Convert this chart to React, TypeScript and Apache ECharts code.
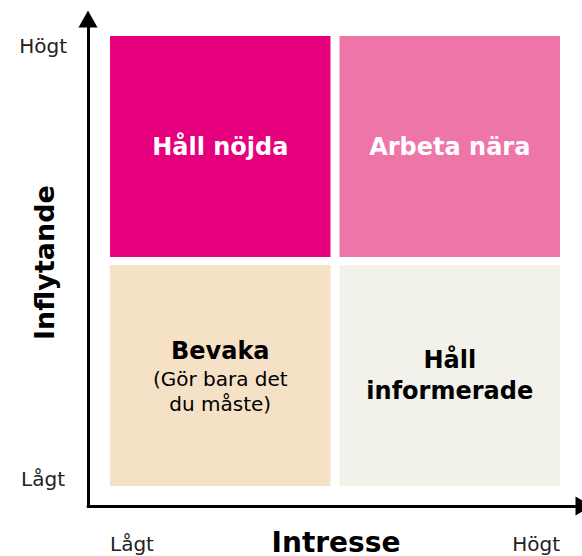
import React, { useEffect, useRef } from "react";
import * as echarts from "echarts";

const cellX = [0, 1, 0, 1];
const cellY = [1, 1, 0, 0];
const cellTitles = ["Håll nöjda", "Arbeta nära", "Bevaka", "Håll\ninformerade"];
const cellNotes = ["", "", "(Gör bara det\ndu måste)", ""];
const cellColors = ["#E6007E", "#EE75A8", "#F5E1C6", "#F2F2EA"];
const cellTextColors = ["#FFFFFF", "#FFFFFF", "#000000", "#000000"];

const xName = "Intresse";
const yName = "Inflytande";
const xTickLabels = ["Lågt", "Högt"];
const yTickLabels = ["Lågt", "Högt"];

export default function App() {
  const ref = useRef<HTMLDivElement>(null);
  useEffect(() => {
    const chart = echarts.init(ref.current!, null, { renderer: "svg" });
    const gap = 9;
    const data = cellX.map((x, i) => [x, cellY[i], i]);
    const font = "DejaVu Sans";
    chart.setOption({
      animation: false,
      grid: { left: 88, right: -2, top: 19, bottom: 50, containLabel: false, outerBoundsMode: "none" },
      xAxis: {
        type: "value",
        min: -0.0978,
        max: 2.1067,
        axisLine: {
          show: true,
          onZero: false,
          symbol: ["none", "triangle"],
          symbolSize: [19, 17],
          lineStyle: { color: "#000", width: 3 },
        },
        axisTick: { show: false },
        axisLabel: { show: false },
        splitLine: { show: false },
        name: xName,
        nameLocation: "middle",
        nameGap: 22,
        nameTextStyle: { fontFamily: font, fontWeight: "bold", fontSize: 28, lineHeight: 28, color: "#000" },
      },
      yAxis: {
        type: "value",
        min: -0.0889,
        max: 2.0756,
        axisLine: {
          show: true,
          onZero: false,
          symbol: ["none", "triangle"],
          symbolSize: [19, 17],
          lineStyle: { color: "#000", width: 3 },
        },
        axisTick: { show: false },
        axisLabel: { show: false },
        splitLine: { show: false },
        name: yName,
        nameLocation: "middle",
        nameRotate: 90,
        nameGap: 30,
        nameTextStyle: { fontFamily: font, fontWeight: "bold", fontSize: 27, color: "#000" },
      },
      graphic: [
        { type: "text", right: 582 - 67, top: 47 - 11, style: { text: yTickLabels[1], font: `20px "${font}"`, fill: "#222" } },
        { type: "text", right: 582 - 65, top: 480 - 11, style: { text: yTickLabels[0], font: `20px "${font}"`, fill: "#222" } },
        { type: "text", left: 110, top: 545 - 11, style: { text: xTickLabels[0], font: `20px "${font}"`, fill: "#222" } },
        { type: "text", right: 582 - 560, top: 545 - 11, style: { text: xTickLabels[1], font: `20px "${font}"`, fill: "#222" } },
      ],
      series: [
        {
          type: "custom",
          data,
          renderItem: (params: any, api: any) => {
            const x = api.value(0);
            const y = api.value(1);
            const i = api.value(2);
            const p0 = api.coord([x, y + 1]);
            const p1 = api.coord([x + 1, y]);
            const l = p0[0] + (x > 0 ? gap / 2 : 0);
            const r = p1[0] - (x < 1 ? gap / 2 : 0);
            const t = p0[1] + (y < 1 ? 4 : 0);
            const b = p1[1] - (y > 0 ? 4 : 0);
            const note = cellNotes[i];
            const titleLines = cellTitles[i].split("\n").map((s) => `{t|${s}}`).join("\n");
            const noteLines = note ? "\n" + note.split("\n").map((s) => `{s|${s}}`).join("\n") : "";
            const c = cellTextColors[i];
            return {
              type: "rect",
              shape: { x: l, y: t, width: r - l, height: b - t },
              style: { fill: cellColors[i] },
              textContent: {
                style: {
                  text: titleLines + noteLines,
                  align: "center",
                  verticalAlign: "middle",
                  rich: {
                    t: { fontFamily: font, fontWeight: "bold", fontSize: 24, lineHeight: 31, fill: c, align: "center" },
                    s: { fontFamily: font, fontSize: 20, lineHeight: 25, fill: c, align: "center" },
                  },
                },
              },
              textConfig: { position: "inside", offset: [0, 0] },
            };
          },
        },
      ],
    });
    return () => chart.dispose();
  }, []);
  return <div ref={ref} style={{ width: 582, height: 556, position: "absolute", left: 0, top: 0 }} />;
}
